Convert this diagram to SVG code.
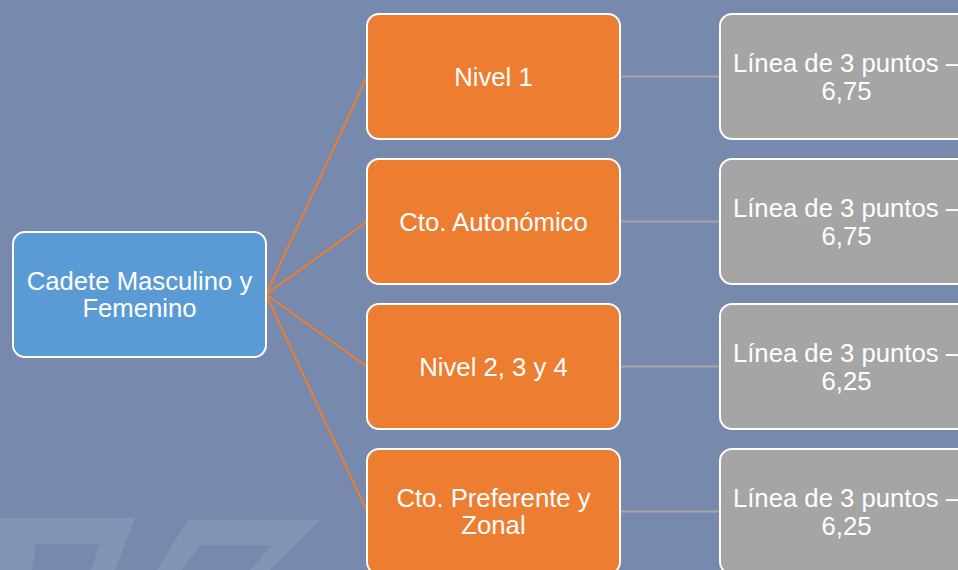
<svg xmlns="http://www.w3.org/2000/svg" width="958" height="570" viewBox="0 0 958 570">
  <style>
    .box { stroke: #ffffff; stroke-width: 2; }
    .root { fill: #5b9bd5; }
    .lvl { fill: #ed7d31; }
    .res { fill: #a5a5a5; }
    .t { font-family: "Liberation Sans", Arial, sans-serif; font-size: 25.7px; fill: #ffffff; text-anchor: middle; }
    .c1 { stroke: #ed7d31; stroke-width: 2; fill: none; }
    .c2 { stroke: #a5a5a5; stroke-width: 2; fill: none; }
    .wm { fill: #ffffff; fill-opacity: 0.09; fill-rule: evenodd; }
  </style>
  <rect x="0" y="0" width="958" height="570" fill="#778aae"/>
  <g id="watermark">
    <path class="wm" d="M0,518 L135,518 L115,570 L91,570 L100,544 L36,544 L32,570 L0,570 Z"/>
    <path class="wm" d="M188,520 L320,520 L270,570 L250,570 L272,545 L200,545 L182,570 L157,570 Z"/>
  </g>
  <g id="connectors">
    <line class="c1" x1="266" y1="294.5" x2="367" y2="76.5"/>
    <line class="c1" x1="266" y1="294.5" x2="367" y2="221.5"/>
    <line class="c1" x1="266" y1="294.5" x2="367" y2="366.5"/>
    <line class="c1" x1="266" y1="294.5" x2="367" y2="511.5"/>
    <line class="c2" x1="620" y1="76.5" x2="720" y2="76.5"/>
    <line class="c2" x1="620" y1="221.5" x2="720" y2="221.5"/>
    <line class="c2" x1="620" y1="366.5" x2="720" y2="366.5"/>
    <line class="c2" x1="620" y1="511.5" x2="720" y2="511.5"/>
  </g>
  <g id="root">
    <rect class="box root" x="13" y="232" width="253" height="125" rx="12"/>
    <text class="t" x="139.5" y="289.75">Cadete Masculino y</text>
    <text class="t" x="139.5" y="317.25">Femenino</text>
  </g>
  <g id="nivel1">
    <rect class="box lvl" x="367" y="14" width="253" height="125" rx="12"/>
    <text class="t" x="493.5" y="85.5">Nivel 1</text>
  </g>
  <g id="autonomico">
    <rect class="box lvl" x="367" y="159" width="253" height="125" rx="12"/>
    <text class="t" x="493.5" y="230.5">Cto. Autonómico</text>
  </g>
  <g id="nivel234">
    <rect class="box lvl" x="367" y="304" width="253" height="125" rx="12"/>
    <text class="t" x="493.5" y="375.5">Nivel 2, 3 y 4</text>
  </g>
  <g id="preferente">
    <rect class="box lvl" x="367" y="449" width="253" height="125" rx="12"/>
    <text class="t" x="493.5" y="506.75">Cto. Preferente y</text>
    <text class="t" x="493.5" y="534.25">Zonal</text>
  </g>
  <g id="res1">
    <rect class="box res" x="720" y="14" width="253" height="125" rx="12"/>
    <text class="t" x="846.5" y="72">Línea de 3 puntos –</text>
    <text class="t" x="846.5" y="99.5">6,75</text>
  </g>
  <g id="res2">
    <rect class="box res" x="720" y="159" width="253" height="125" rx="12"/>
    <text class="t" x="846.5" y="217">Línea de 3 puntos –</text>
    <text class="t" x="846.5" y="244.5">6,75</text>
  </g>
  <g id="res3">
    <rect class="box res" x="720" y="304" width="253" height="125" rx="12"/>
    <text class="t" x="846.5" y="362">Línea de 3 puntos –</text>
    <text class="t" x="846.5" y="389.5">6,25</text>
  </g>
  <g id="res4">
    <rect class="box res" x="720" y="449" width="253" height="125" rx="12"/>
    <text class="t" x="846.5" y="507">Línea de 3 puntos –</text>
    <text class="t" x="846.5" y="534.5">6,25</text>
  </g>
</svg>
